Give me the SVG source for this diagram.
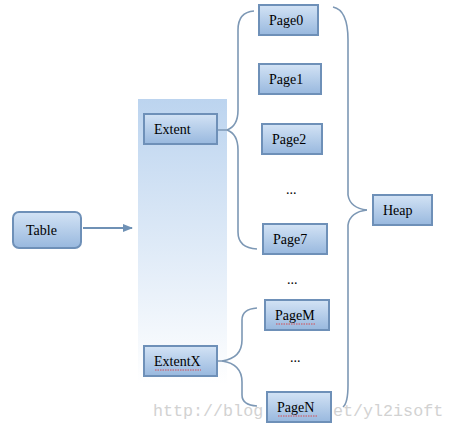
<svg xmlns="http://www.w3.org/2000/svg" width="457" height="431" viewBox="0 0 457 431">
<defs>
<linearGradient id="box" x1="0" y1="0" x2="0" y2="1">
<stop offset="0" stop-color="#d3e3f5"/>
<stop offset="1" stop-color="#98b8de"/>
</linearGradient>
<linearGradient id="panel" x1="0" y1="0" x2="0" y2="1">
<stop offset="0" stop-color="#bcd4ef"/>
<stop offset="1" stop-color="#ffffff"/>
</linearGradient>
<marker id="arr" markerWidth="10" markerHeight="8" refX="9" refY="4" orient="auto" markerUnits="userSpaceOnUse">
<path d="M0,0 L10,4 L0,8 z" fill="#6f91b5"/>
</marker>
</defs>
<style>
.b{fill:url(#box);stroke:#6e90b8;stroke-width:2}
.t{font-family:"Liberation Serif","Times New Roman",serif;font-size:14px;fill:#000}
.c{fill:none;stroke:#7d98b5;stroke-width:1.6}
.sq{fill:none;stroke:#e03030;stroke-width:0.8;stroke-dasharray:1.5 1}
.wm{font-family:"Liberation Mono","Courier New",monospace;font-size:16.7px;fill:#d2d2d2}
</style>
<rect x="138" y="99" width="89" height="285" fill="url(#panel)"/>
<text class="wm" x="153" y="416">http://blog</text>
<text class="wm" x="323" y="416">net/yl2isoft</text>
<g id="connectors">
<line x1="83" y1="228" x2="132" y2="228" stroke="#6f91b5" stroke-width="2" marker-end="url(#arr)"/>
<path class="c" d="M217,130 L227,130 Q238,126 238,110 L238,30 Q238,12 254,11"/>
<path class="c" d="M227,130 Q238,134 238,150 L238,232 Q238,248 257,249"/>
<path class="c" d="M333,7 Q348,10 348,40 L348,195 Q350,208 367,210"/>
<path class="c" d="M367,210 Q350,212 348,225 L348,385 Q348,403 343,407"/>
<path class="c" d="M217,361 L222,361 Q242,358 242,340 L242,320 Q242,309 257,308"/>
<path class="c" d="M222,361 Q242,364 242,382 L242,395 Q242,405 257,406"/>
</g>
<g id="table"><rect class="b" x="13" y="212" width="68" height="36" rx="6"/><text class="t" x="26" y="235">Table</text></g>
<g id="extent"><rect class="b" x="144" y="114" width="73" height="30"/><text class="t" x="154" y="134">Extent</text></g>
<g id="extentx"><rect class="b" x="144" y="346" width="73" height="30"/><text class="t" x="154" y="366">ExtentX</text><path class="sq" d="M155,370 L201,370"/></g>
<g id="page0"><rect class="b" x="259" y="5" width="59" height="30"/><text class="t" x="269" y="25">Page0</text></g>
<g id="page1"><rect class="b" x="259" y="64" width="62" height="30"/><text class="t" x="269" y="84">Page1</text></g>
<g id="page2"><rect class="b" x="262" y="124" width="60" height="30"/><text class="t" x="272" y="144">Page2</text></g>
<text class="t" x="286" y="194">...</text>
<g id="page7"><rect class="b" x="263" y="224" width="64" height="30"/><text class="t" x="273" y="244">Page7</text></g>
<text class="t" x="287" y="284">...</text>
<g id="pagem"><rect class="b" x="265" y="300" width="64" height="30"/><text class="t" x="275" y="320">PageM</text><path class="sq" d="M276,324 L316,324"/></g>
<text class="t" x="290" y="362">...</text>
<g id="pagen"><rect class="b" x="267" y="392" width="64" height="30"/><text class="t" x="277" y="412">PageN</text><path class="sq" d="M278,416 L318,416"/></g>
<g id="heap"><rect class="b" x="373" y="195" width="59" height="30"/><text class="t" x="383" y="215">Heap</text></g>
</svg>
